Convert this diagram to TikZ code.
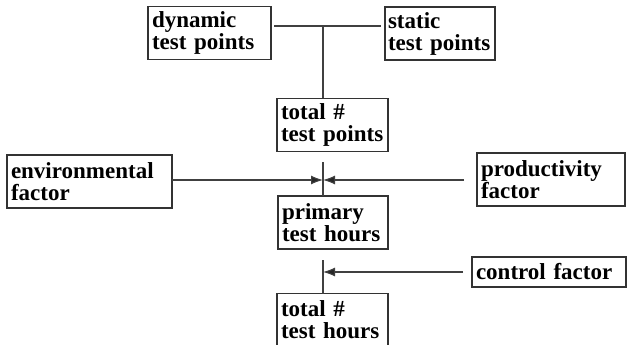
\documentclass[tikz,border=0pt]{standalone}
\usepackage{fontspec}
\setmainfont{Liberation Serif}
\usetikzlibrary{arrows.meta,calc}
\tikzset{
  box/.style  = {draw=black!80, line width=1.3pt, fill=white, align=left,
                 inner xsep=4pt, inner ysep=2pt, minimum height=53pt, outer sep=0pt,
                 font=\fontsize{23}{22}\selectfont\bfseries},
  wire/.style = {line width=1.1pt, black!75},
  arr/.style  = {wire, -{Latex[length=12pt,width=9pt,fill=black!85]}},
}

\begin{document}
\begin{tikzpicture}[x=1pt,y=-1pt]
  \useasboundingbox (0,0) rectangle (627,345);
  % test points
  \node[box,text width=115pt] (dyn)  at (209.5,33)  {dynamic\\test points};
  \node[box,text width=104pt,inner xsep=3pt] (stat) at (440,33.5) {static\\test points};
  \node[box,text width=103pt] (tpts) at (332.5,125) {total \#\\test points};
  % factors
  \node[box,text width=157pt] (env)  at (89.5,181.5) {environmental\\factor};
  \node[box,text width=140pt] (prod) at (551,179.5)  {productivity\\factor};
  \node[box,text width=102pt] (prim) at (333,222.5)  {primary\\test hours};
  \node[box,text width=146pt,minimum height=30pt] (ctrl) at (549,272) {control factor};
  \node[box,text width=103pt] (thrs) at (332.5,320)  {total \#\\test hours};
  % connectors
  \coordinate (top)   at (323,26);
  \coordinate (mid)   at (323,162);
  \coordinate (meet)  at (323,180);
  \coordinate (low)   at (323,260);
  \coordinate (cmeet) at (323,272);
  \draw[wire,shorten <=3pt,shorten >=4pt] (dyn.east |- top) -- (stat.west |- top);
  \draw[wire] (top) -- (top |- tpts.north);
  \draw[wire] (mid) -- (mid |- prim.north);
  \draw[arr] (env.east |- meet) -- (meet);
  \draw[arr,shorten <=13pt] (prod.west |- meet) -- (meet);
  \draw[wire] (low) -- (low |- thrs.north);
  \draw[arr,shorten <=9pt] (ctrl.west |- cmeet) -- (cmeet);
\end{tikzpicture}
\end{document}
